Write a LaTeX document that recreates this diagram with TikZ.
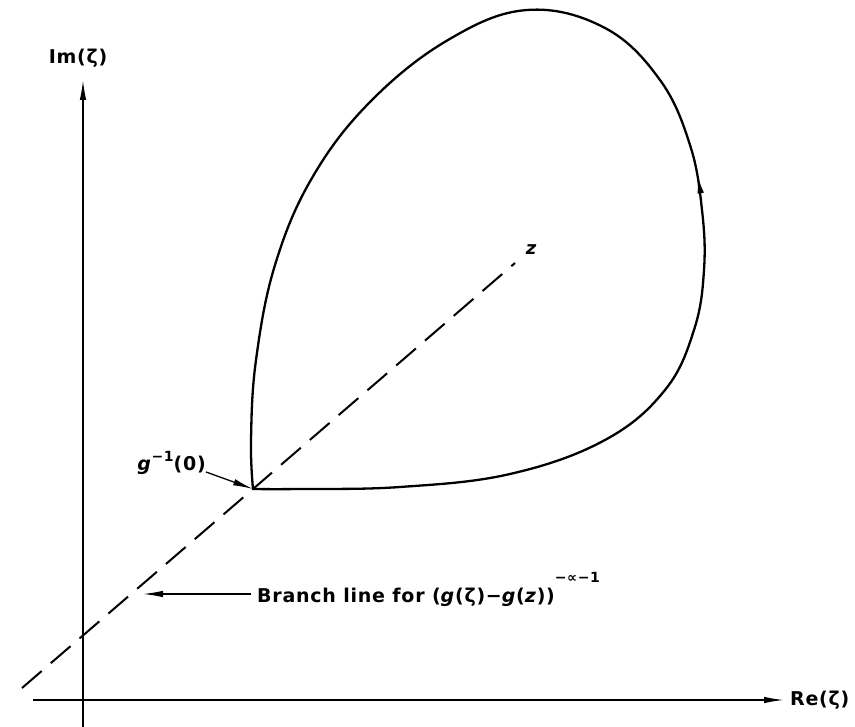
\documentclass[tikz,border=0pt]{standalone}
\usepackage{fontspec}
\setmainfont{DejaVu Sans}[LetterSpace=4]
\usetikzlibrary{arrows.meta,decorations.markings}
\begin{document}
\begin{tikzpicture}[x=1pt,y=-1pt,
  axis/.style={line width=1.4pt},
  arr/.style={-{Latex[length=20pt,width=6.5pt]}},
  loopline/.style={line width=2.3pt, line join=round},
  branchline/.style={line width=2pt, dash pattern=on 26pt off 12pt},
  lbl/.style={font=\fontsize{19}{23}\selectfont\bfseries, inner sep=0pt}]
\useasboundingbox[fill=white] (0,0) rectangle (855,727);
% axes
\coordinate (xstart) at (33,700);
\coordinate (ybottom) at (83,727);
\coordinate (ytip) at (83,80);
\node[lbl, anchor=west] (relabel) at (790,700) {Re(ζ)};
\node[lbl] (imlabel) at (78,58) {Im(ζ)};
\draw[axis, arr] (xstart) -- (relabel.west -| 784,0);
\draw[axis, arr] (ybottom) -- (ytip);
% branch line (dashed)
\coordinate (P) at (253,489);
\coordinate (bstart) at (22,688);
\coordinate (zend) at (515,263);
\draw[branchline] (bstart) -- (P) -- (zend);
\node[lbl, font=\fontsize{18}{22}\selectfont\bfseries\itshape] (zlabel) at (531,250) {z};
% loop
\draw[loopline,
  decoration={markings, mark=at position 0.565 with {\arrowreversed{Latex[length=20pt,width=6.5pt]}}},
  postaction=decorate]
  plot[smooth, tension=0.65] coordinates {
   (253,489) (251,440) (256,360) (275,265) (312,178) (370,102) (448,40) (527,10)
   (605,28) (660,80) (690,145) (702,210) (704,270) (694,330) (665,390) (605,440) (510,474)
   (400,487) (300,489) (253,489)};
% g^{-1}(0) label
\node[lbl, anchor=base east] (glabel) at (206,471) {\textit{g}\raisebox{9pt}{\fontsize{14}{17}\selectfont −1}(0)};
\draw[line width=1.3pt, arr] (glabel.east |- 0,472) -- (P);
% branch label
\coordinate (btip) at (143,594);
\node[lbl, anchor=base west] (branch) at (257,602)
  {Branch line for (\textit{g}(ζ)−\textit{g}(\textit{z}))\raisebox{20pt}{\fontsize{14}{17}\selectfont −∝−1}};
\draw[line width=1.3pt, arr] (branch.west |- btip) ++(-6,0) -- (btip);
\end{tikzpicture}
\end{document}
